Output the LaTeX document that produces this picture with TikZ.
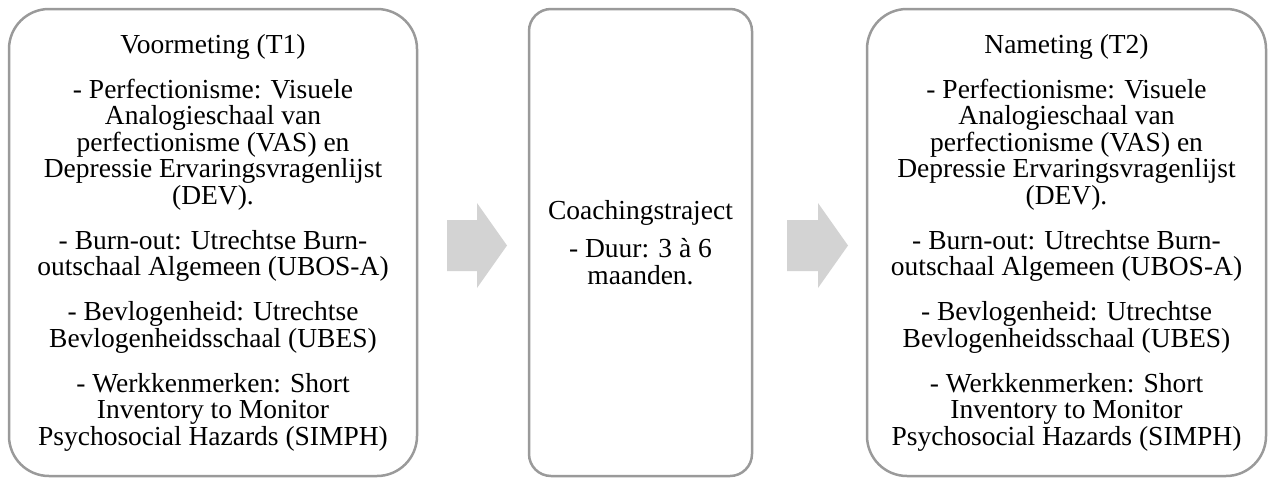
\documentclass[tikz,border=0pt]{standalone}
\usepackage{fontspec}
\setmainfont{Liberation Serif}
\usepackage{tikz}
\usetikzlibrary{positioning}
\definecolor{rand}{HTML}{9A9A9A}
\definecolor{pijl}{HTML}{D3D3D3}
\tikzset{
	phase/.style={draw=rand, line width=2.5pt, align=center, inner sep=0pt,
		minimum height=467pt, font=\fontsize{27.5}{26.5}\selectfont},
	flow/.style={fill=pijl, draw=none}
}

\begin{document}
\begin{tikzpicture}[x=1pt, y=-1pt]
		\useasboundingbox (0,0) rectangle (1268,477);
		
		\node[phase, rounded corners=40pt, minimum width=408pt] (voor) at (213,242.5) {Voormeting (T1)\\[18.5pt]
			- Perfectionisme: Visuele\\ Analogieschaal van\\ perfectionisme (VAS) en\\ Depressie Ervaringsvragenlijst\\ (DEV).\\[18.5pt]
			- Burn-out: Utrechtse Burn-\\ outschaal Algemeen (UBOS-A)\\[18.5pt]
			- Bevlogenheid: Utrechtse\\ Bevlogenheidsschaal (UBES)\\[18.5pt]
			- Werkkenmerken: Short\\ Inventory to Monitor\\ Psychosocial Hazards (SIMPH)};
		\node[phase, rounded corners=22pt, minimum width=223pt] (coach) at (640.5,242.5) {Coachingstraject\\[11.5pt]
			- Duur: 3 à 6\\ maanden.};
		\node[phase, rounded corners=40pt, minimum width=399pt] (na) at (1066.5,242.5) {Nameting (T2)\\[18.5pt]
			- Perfectionisme: Visuele\\ Analogieschaal van\\ perfectionisme (VAS) en\\ Depressie Ervaringsvragenlijst\\ (DEV).\\[18.5pt]
			- Burn-out: Utrechtse Burn-\\ outschaal Algemeen (UBOS-A)\\[18.5pt]
			- Bevlogenheid: Utrechtse\\ Bevlogenheidsschaal (UBES)\\[18.5pt]
			- Werkkenmerken: Short\\ Inventory to Monitor\\ Psychosocial Hazards (SIMPH)};
		
		% pijlen tussen de fasen
		\fill[flow] (447,220) -- (477,220) -- (477,203) -- (507,245.5) -- (477,288) -- (477,271) -- (447,271) -- cycle;
		\fill[flow] (787,220) -- (818,220) -- (818,203) -- (848,245.5) -- (818,288) -- (818,271) -- (787,271) -- cycle;
	\end{tikzpicture}
\end{document}
